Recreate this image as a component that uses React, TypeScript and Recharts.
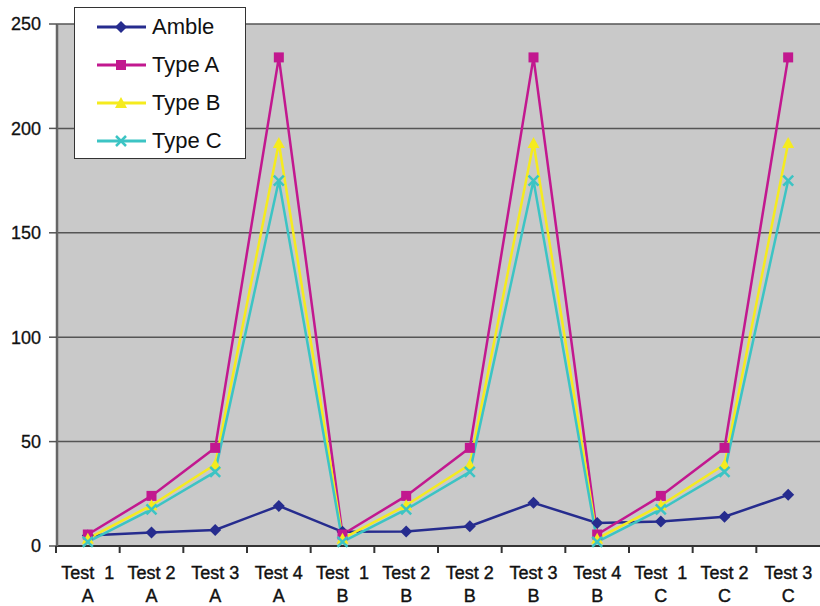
import React from "react";
import { LineChart, Line, XAxis, YAxis, CartesianGrid } from "recharts";

const testLabels = ["Test  1", "Test 2", "Test 3", "Test 4", "Test  1", "Test 2", "Test 2", "Test 3", "Test 4", "Test  1", "Test 2", "Test 3"];
const groupLabels = ["A", "A", "A", "A", "B", "B", "B", "B", "B", "C", "C", "C"];

const amble = [5, 6.5, 7.7, 19.2, 6.8, 7, 9.5, 20.7, 11, 11.7, 14, 24.5];
const typeA = [5.5, 24, 47, 234, 5.5, 24, 47, 234, 5.5, 24, 47, 234];
const typeB = [3.5, 19.5, 39, 193, 3.5, 19.5, 39, 193, 3.5, 19.5, 39, 193];
const typeC = [2, 17.5, 35.5, 175, 2, 17.5, 35.5, 175, 2, 17.5, 35.5, 175];

const yTicks = [0, 50, 100, 150, 200, 250];

const COLORS = {
  amble: "#262C8E",
  typeA: "#C2188F",
  typeB: "#F5EB1E",
  typeC: "#3CC4C4",
};

const FONT = "'Liberation Sans', Arial, sans-serif";
const HALF_BAND = 764 / 12 / 2;

const data = testLabels.map((t, i) => ({
  key: i,
  test: t,
  group: groupLabels[i],
  amble: amble[i],
  typeA: typeA[i],
  typeB: typeB[i],
  typeC: typeC[i],
}));

const Diamond = ({ cx, cy, fill }: any) =>
  cx == null ? null : (
    <path d={`M${cx},${cy - 6}L${cx + 6},${cy}L${cx},${cy + 6}L${cx - 6},${cy}Z`} fill={fill} />
  );

const Square = ({ cx, cy, fill }: any) =>
  cx == null ? null : <rect x={cx - 5} y={cy - 5} width={10} height={10} fill={fill} />;

const Triangle = ({ cx, cy, fill }: any) =>
  cx == null ? null : (
    <path d={`M${cx},${cy - 6}L${cx + 6},${cy + 5}L${cx - 6},${cy + 5}Z`} fill={fill} />
  );

const Cross = ({ cx, cy, stroke }: any) =>
  cx == null ? null : (
    <g stroke={stroke} strokeWidth={2.5}>
      <line x1={cx - 5} y1={cy - 5} x2={cx + 5} y2={cy + 5} />
      <line x1={cx - 5} y1={cy + 5} x2={cx + 5} y2={cy - 5} />
    </g>
  );

const XTick = ({ x, y, payload }: any) => {
  const row = data[payload.value];
  return (
    <g>
      <line x1={x - HALF_BAND} y1={y} x2={x - HALF_BAND} y2={y + 7} stroke="#333" strokeWidth={2} />
      <text x={x} y={y + 33} textAnchor="middle" fontSize={18} fill="#111" stroke="#111" strokeWidth={0.4} fontFamily={FONT} style={{ whiteSpace: "pre" }}>
        {row.test}
      </text>
      <text x={x} y={y + 56} textAnchor="middle" fontSize={18} fill="#111" stroke="#111" strokeWidth={0.4} fontFamily={FONT}>
        {row.group}
      </text>
    </g>
  );
};

const legendItems = [
  { name: "Amble", color: COLORS.amble, Marker: Diamond },
  { name: "Type A", color: COLORS.typeA, Marker: Square },
  { name: "Type B", color: COLORS.typeB, Marker: Triangle },
  { name: "Type C", color: COLORS.typeC, Marker: Cross },
];

function ChartLegend() {
  return (
    <div
      style={{
        position: "absolute",
        left: 74,
        top: 7,
        width: 172,
        height: 152,
        background: "#fff",
        border: "1.5px solid #333",
        boxSizing: "border-box",
      }}
    >
      {legendItems.map((item, i) => (
        <div
          key={item.name}
          style={{ position: "absolute", left: 0, top: 1 + i * 38, height: 36, display: "flex", alignItems: "center" }}
        >
          <svg width={76} height={36}>
            <line x1={22} y1={18} x2={71} y2={18} stroke={item.color} strokeWidth={3} />
            <item.Marker cx={46} cy={18} fill={item.color} stroke={item.color} />
          </svg>
          <span style={{ fontFamily: FONT, fontSize: 22, color: "#111", marginLeft: 1 }}>{item.name}</span>
        </div>
      ))}
    </div>
  );
}

export default function App() {
  return (
    <div style={{ position: "absolute", left: 0, top: 0, width: 820, height: 606, background: "#fff" }}>
      <LineChart width={820} height={606} data={data} margin={{ top: 24, right: 0, bottom: 0, left: 0 }}>
        <CartesianGrid vertical={false} fill="#C9C9C9" stroke="#555" strokeWidth={1.5} />
        <XAxis
          dataKey="key"
          height={60}
          padding={{ left: HALF_BAND - 1, right: HALF_BAND }}
          tick={<XTick />}
          tickLine={false}
          tickSize={0}
          tickMargin={0}
          interval={0}
          axisLine={{ stroke: "#333", strokeWidth: 2 }}
        />
        <YAxis
          width={57}
          domain={[0, 250]}
          ticks={yTicks}
          tickSize={8}
          tickMargin={8}
          tickLine={{ stroke: "#555", strokeWidth: 1.5 }}
          axisLine={{ stroke: "#666", strokeWidth: 2.5 }}
          tick={{ fontSize: 18, fill: "#111", stroke: "#111", strokeWidth: 0.3, fontFamily: FONT }}
        />
        <Line dataKey="amble" stroke={COLORS.amble} strokeWidth={2.5} dot={<Diamond fill={COLORS.amble} />} isAnimationActive={false} />
        <Line dataKey="typeA" stroke={COLORS.typeA} strokeWidth={2.5} dot={<Square fill={COLORS.typeA} />} isAnimationActive={false} />
        <Line dataKey="typeB" stroke={COLORS.typeB} strokeWidth={2.5} dot={<Triangle fill={COLORS.typeB} />} isAnimationActive={false} />
        <Line dataKey="typeC" stroke={COLORS.typeC} strokeWidth={2.5} dot={<Cross stroke={COLORS.typeC} />} isAnimationActive={false} />
      </LineChart>
      <ChartLegend />
    </div>
  );
}
